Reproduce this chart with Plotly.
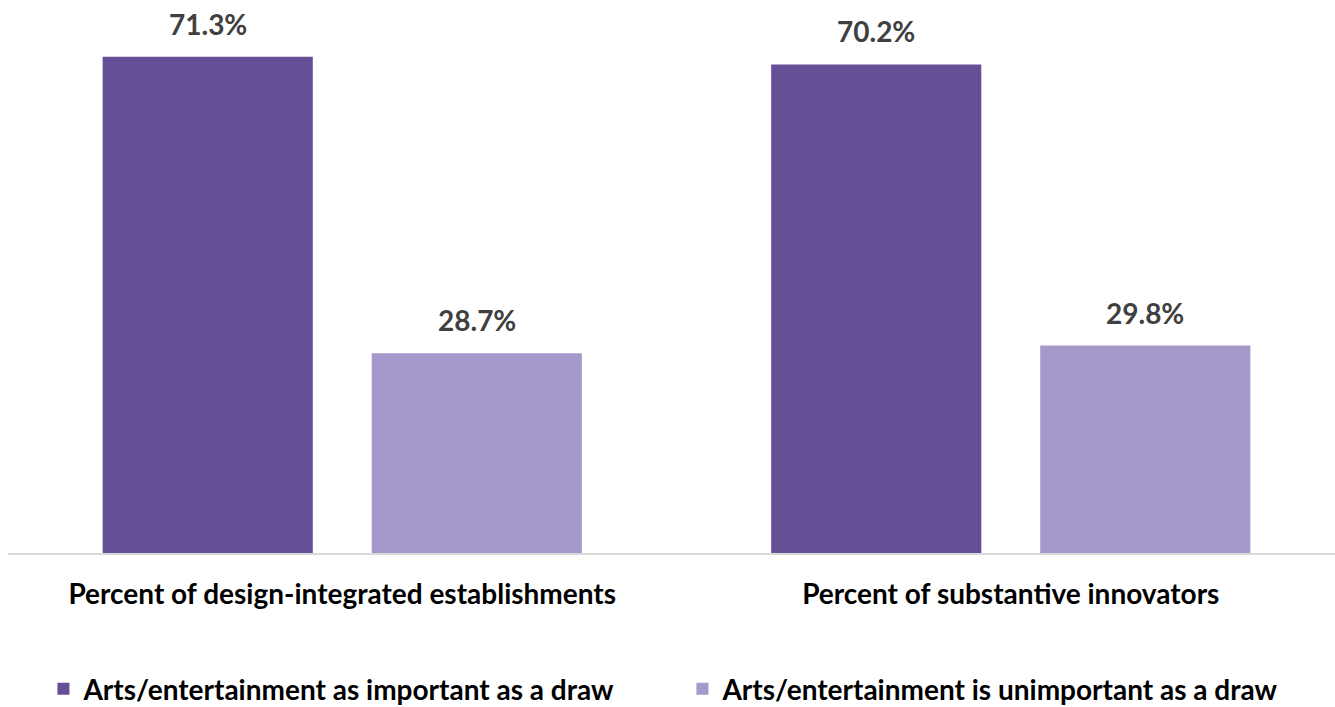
import plotly.graph_objects as go

categories = ["Percent of design-integrated establishments", "Percent of substantive innovators"]
important = [71.3, 70.2]
unimportant = [28.7, 29.8]
series_names = ["Arts/entertainment as important as a draw",
                "Arts/entertainment is unimportant as a draw"]
colors = ["#654F96", "#A598CB"]

FONT = "Lato"
BARGAP = 0.195
GROUPGAP = 0.219

fig = go.Figure()
for name, vals, col in zip(series_names, [important, unimportant], colors):
    fig.add_trace(go.Bar(
        x=categories, y=vals, name=name, marker_color=col,
        marker_line_width=0,
    ))

# value labels centred over each bar of the group
slot = (1 - BARGAP) / 2
for k, vals in enumerate([important, unimportant]):
    offset = (k - 0.5) * slot
    for i, v in enumerate(vals):
        fig.add_annotation(
            x=i + offset, y=v, xref="x", yref="y",
            text=f"<b>{v:.1f}%</b>", showarrow=False,
            yanchor="middle", yshift=33,
            font=dict(family=FONT, size=28, color="#404040"),
        )

fig.update_layout(
    width=1335, height=707,
    margin=dict(l=8, r=0, t=31, b=154, autoexpand=False),
    paper_bgcolor="white", plot_bgcolor="white",
    barmode="group", bargap=BARGAP, bargroupgap=GROUPGAP,
    font=dict(family=FONT, color="#000000"),
    showlegend=True,
    legend=dict(orientation="h", x=0.0267, xanchor="left",
                yref="container", y=0.0255, yanchor="middle",
                entrywidth=594, entrywidthmode="pixels",
                font=dict(family=FONT, size=28, color="#000000", weight="bold"),
                traceorder="normal"),
)
fig.update_xaxes(
    range=[-0.5, 1.485], showline=True, linecolor="#D9D9D9", linewidth=2,
    ticks="", ticklabelstandoff=15, automargin=False,
    tickfont=dict(family=FONT, size=28, color="#000000", weight="bold"),
)
fig.update_yaxes(range=[0, 75], visible=False, showgrid=False, zeroline=False,
                 automargin=False)

fig.write_html("out.html")
